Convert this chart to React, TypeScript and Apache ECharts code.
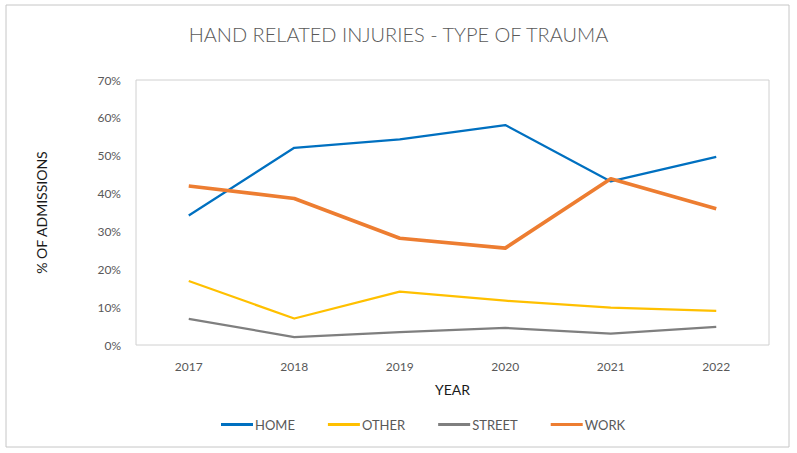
import React, { useEffect, useRef } from "react";
import * as echarts from "echarts";

const years = ["2017", "2018", "2019", "2020", "2021", "2022"];
const home = [34.2, 52.1, 54.3, 58.1, 43.2, 49.7];
const other = [16.9, 7.0, 14.1, 11.7, 9.9, 9.0];
const street = [6.9, 2.1, 3.4, 4.5, 3.0, 4.8];
const work = [42.0, 38.7, 28.2, 25.6, 43.9, 36.0];
const seriesNames = ["HOME", "OTHER", "STREET", "WORK"];
const yTicks = { min: 0, max: 70, interval: 10 };

const FONT = "Lato";

export default function App() {
  const ref = useRef<HTMLDivElement>(null);
  useEffect(() => {
    const chart = echarts.init(ref.current!, null, { renderer: "svg" });
    const mk = (name: string, data: number[], color: string, width: number) => ({
      name,
      type: "line",
      data,
      symbol: "none",
      lineStyle: { color, width, cap: "butt", join: "round" },
      itemStyle: { color },
    });
    chart.setOption({
      animation: false,
      textStyle: { fontFamily: FONT },
      title: {
        text: "HAND RELATED INJURIES - TYPE OF TRAUMA",
        left: "center",
        top: 19,
        textStyle: { fontFamily: FONT, fontSize: 20, fontWeight: 300, color: "#595959" },
      },
      graphic: [
        {
          type: "rect",
          shape: { x: 6, y: 5, width: 783, height: 442 },
          style: { fill: "none", stroke: "#c6c6c6", lineWidth: 1 },
          silent: true,
        },
      ],
      grid: {
        left: 136,
        top: 80,
        right: 28,
        bottom: 108,
        show: true,
        borderColor: "#d0d0d0",
        borderWidth: 1,
        backgroundColor: "transparent",
      },
      legend: {
        data: seriesNames.map((n) => ({ name: n, icon: "rect" })),
        left: 216,
        top: 413,
        itemWidth: 32,
        itemHeight: 3,
        itemGap: 33,
        textStyle: { fontFamily: FONT, fontSize: 13, color: "#595959", padding: [0, 0, 0, -3] },
      },
      xAxis: {
        type: "category",
        data: years,
        boundaryGap: true,
        name: "YEAR",
        nameLocation: "middle",
        nameGap: 37,
        nameTextStyle: { fontFamily: FONT, fontSize: 14, color: "#1a1a1a" },
        axisLine: { show: false },
        axisTick: { show: false },
        axisLabel: { fontFamily: FONT, fontSize: 12, color: "#595959", margin: 15 },
        splitLine: { show: false },
      },
      yAxis: {
        type: "value",
        min: yTicks.min,
        max: yTicks.max,
        interval: yTicks.interval,
        name: "% OF ADMISSIONS",
        nameLocation: "middle",
        nameGap: 88,
        nameTextStyle: { fontFamily: FONT, fontSize: 14, color: "#1a1a1a" },
        axisLine: { show: false },
        axisTick: { show: false },
        splitLine: { show: false },
        axisLabel: { fontFamily: FONT, fontSize: 12, color: "#595959", margin: 15, formatter: "{value}%" },
      },
      series: [
        mk("HOME", home, "#0070C0", 2.25),
        mk("OTHER", other, "#FFC000", 2.25),
        mk("STREET", street, "#7F7F7F", 2.25),
        mk("WORK", work, "#ED7D31", 3.75),
      ],
    });
    return () => chart.dispose();
  }, []);
  return (
    <div
      ref={ref}
      style={{ position: "fixed", left: 0, top: 0, width: 797, height: 453, background: "#fff" }}
    />
  );
}
